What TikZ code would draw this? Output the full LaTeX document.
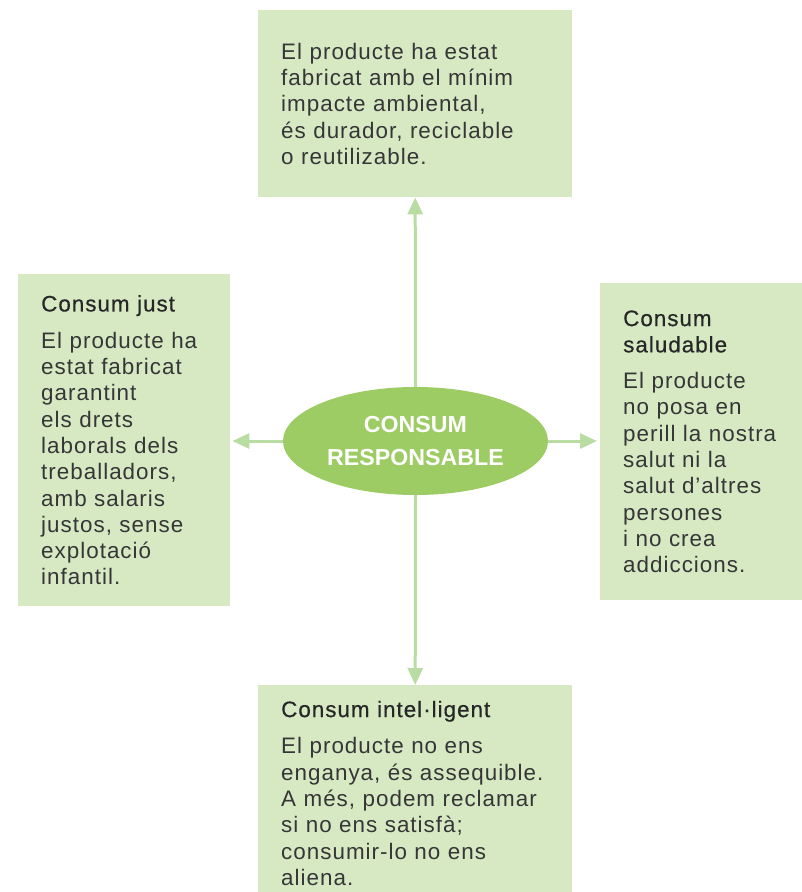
\documentclass[tikz,border=0pt]{standalone}
\usepackage{fontspec}
\setmainfont{Liberation Sans}[LetterSpace=4.5]
\newfontfamily\headfont{Liberation Sans}[LetterSpace=4.5, FakeBold=0.5]
\newfontfamily\ovalfont{Liberation Sans}
\usepackage{tikz}
\usetikzlibrary{arrows.meta, shapes}

\definecolor{boxgreen}{HTML}{D6E9C3}
\definecolor{ovalgreen}{HTML}{9DCB64}
\definecolor{arrowgreen}{HTML}{B9DCA2}
\definecolor{bodytext}{HTML}{363636}

\tikzset{
  infobox/.style={rectangle, fill=boxgreen, anchor=north west, inner xsep=23pt, inner ysep=0pt,
    align=left, text=bodytext, font=\fontsize{22.4}{26.3}\selectfont},
  oval/.style={ellipse, fill=ovalgreen, inner sep=0pt, minimum width=265pt, minimum height=108pt,
    align=center, text=white, font=\ovalfont\bfseries\fontsize{23.2}{33}\selectfont},
  link/.style={draw=arrowgreen, line width=3pt, -{Triangle[length=17pt, width=15pt]}},
}
\newcommand{\boxtitle}[1]{{\headfont\color{black!85}#1}}

\begin{document}
\begin{tikzpicture}[x=1pt, y=-1pt]
            \useasboundingbox (0,0) rectangle (802,892);
            \node [infobox, text width=268pt, minimum height=187pt] (box1) at (258,10) {El producte ha estat\\ fabricat amb el mínim\\ impacte ambiental,\\ és durador, reciclable\\ o reutilizable.};
            \node [infobox, text width=166pt, minimum height=332pt] (box2) at (18,274) {\boxtitle{Consum just}\\[10.5pt] El producte ha\\ estat fabricat\\ garantint\\ els drets\\ laborals dels\\ treballadors,\\ amb salaris\\ justos, sense\\ explotació\\ infantil.};
            \node [infobox, text width=156pt, minimum height=317pt] (box3) at (600,283) {\boxtitle{Consum}\\ \boxtitle{saludable}\\[10pt] El producte\\ no posa en\\ perill la nostra\\ salut ni la\\ salut d’altres\\ persones\\ i no crea\\ addiccions.};
            % runs past the lower edge of the page, as in the original
            \node [infobox, text width=268pt, minimum height=216pt] (box4) at (258,685) {\boxtitle{Consum intel·ligent}\\[10.5pt] El producte no ens\\ enganya, és assequible.\\ A més, podem reclamar\\ si no ens satisfà;\\ consumir-lo no ens\\ aliena.};
            \node [oval] (centre) at (415.5,441) {CONSUM\\ RESPONSABLE};

            \draw [link] (centre.north) -- (box1.south);
            \draw [link] (centre.south) -- (box4.north);
            \draw [link, shorten >=2pt] (centre.west) -- (centre.west -| box2.east);
            \draw [link, shorten >=3pt] (centre.east) -- (centre.east -| box3.west);
          \end{tikzpicture}
\end{document}
